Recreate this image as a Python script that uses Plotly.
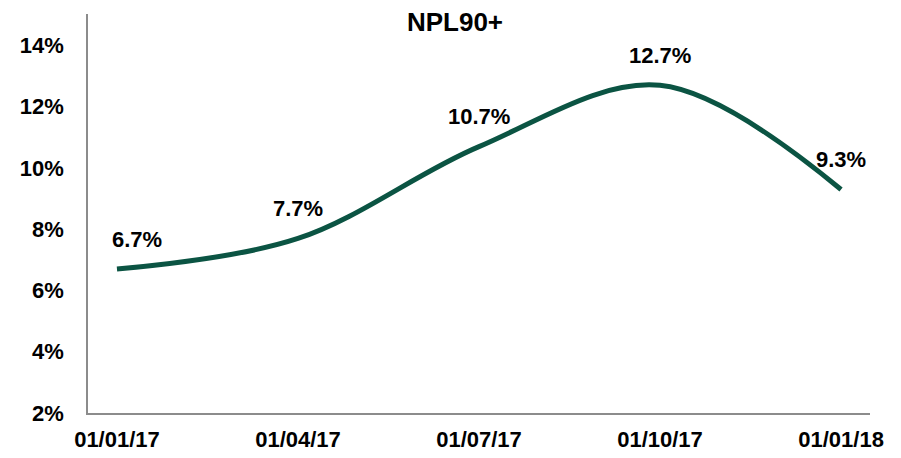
import plotly.graph_objects as go

# NPL90+ ratio by quarter
dates = ['01/01/17', '01/04/17', '01/07/17', '01/10/17', '01/01/18']
npl = [0.067, 0.077, 0.107, 0.127, 0.093]
y_ticks = [0.02, 0.04, 0.06, 0.08, 0.10, 0.12, 0.14]

font_family = 'Arial, Liberation Sans, sans-serif'
idx = list(range(len(dates)))

fig = go.Figure()
fig.add_trace(go.Scatter(
    x=idx, y=npl, mode='lines',
    line=dict(color='#0b5443', width=5, shape='spline', smoothing=1.0),
    hoverinfo='skip',
))

# value labels above the points
for i, v in zip(idx, npl):
    fig.add_annotation(
        x=i, y=v, text=f"<b>{v*100:.1f}%</b>", showarrow=False,
        yshift=30, xshift=20 if i == 0 else 0,
        font=dict(family=font_family, size=22, color='#000000'),
    )

# page body has an 8px margin, so the figure is a bit smaller than the window
fig.update_layout(
    width=893, height=450,
    margin=dict(l=80, r=31, t=6, b=42),
    paper_bgcolor='white', plot_bgcolor='white',
    showlegend=False,
    font=dict(family=font_family, size=21, color='#000000'),
    title=dict(text='<b>NPL90+</b>', x=(455 - 8) / 893, xref='container', xanchor='center',
               y=1 - 14 / 450, yref='container', yanchor='middle',
               font=dict(family=font_family, size=26, color='#000000')),
)

fig.update_xaxes(
    range=[-0.16, 4.16], tickmode='array', tickvals=idx,
    ticktext=[f"<b>{d}</b>" for d in dates],
    showgrid=False, zeroline=False, showline=True,
    linecolor='#8c8c8c', linewidth=1.5, ticks='',
    ticklabelstandoff=6, tickfont=dict(size=22),
)
fig.update_yaxes(
    range=[0.02, 0.1503], tickmode='array', tickvals=y_ticks,
    ticktext=[f"<b>{int(round(t*100))}%</b>" for t in y_ticks],
    showgrid=False, zeroline=False, showline=True,
    linecolor='#8c8c8c', linewidth=1.5, ticks='',
    ticklabelstandoff=18, tickfont=dict(size=22),
)

fig.write_html("out.html")
